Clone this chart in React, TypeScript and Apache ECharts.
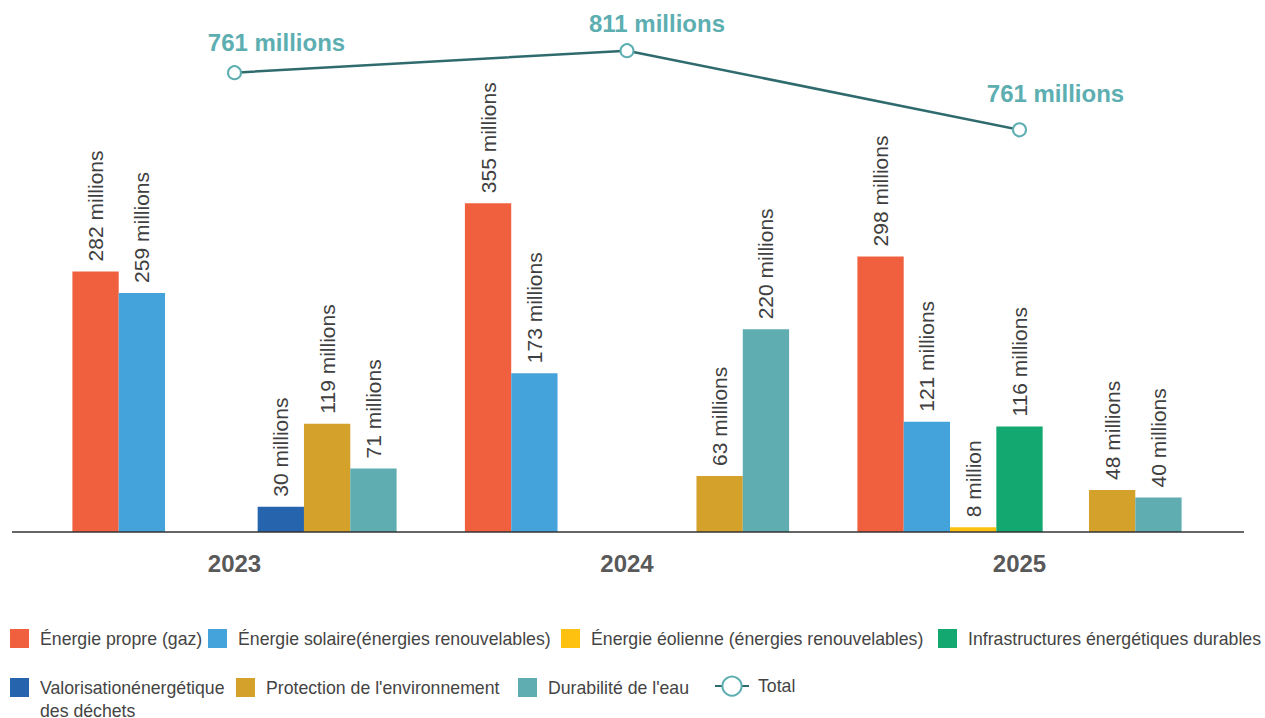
import React, { useEffect, useRef } from "react";
import * as echarts from "echarts";

const YEARS = ["2023", "2024", "2025"];

const GAZ = [282, 355, 298];
const SOLAIRE = [259, 173, 121];
const EOLIENNE = [null, null, 8];
const INFRA = [null, null, 116];
const VALORISATION = [30, null, null];
const PROTECTION = [119, 63, 48];
const EAU = [71, 220, 40];

// plotted totals (position) and the texts printed next to them
const TOTAL = [761, 811, 631];
const TOTAL_LABELS = ["761 millions", "811 millions", "761 millions"];

const SERIES_NAMES = [
  "Énergie propre (gaz)",
  "Énergie solaire(énergies renouvelables)",
  "Énergie éolienne (énergies renouvelables)",
  "Infrastructures énergétiques durables",
  "Valorisationénergétique des déchets",
  "Protection de l'environnement",
  "Durabilité de l'eau",
];
const TOTAL_NAME = "Total";

const COLORS = ["#F0603F", "#45A3DC", "#FEC10F", "#12A86F", "#2664AE", "#D4A22B", "#5FADB1"];

const FONT = "'Liberation Sans', Arial, Helvetica, sans-serif";

export default function App() {
  const ref = useRef<HTMLDivElement>(null);

  useEffect(() => {
    if (!ref.current) return;
    const chart = echarts.init(ref.current, null, { renderer: "svg" });

    const barData = [GAZ, SOLAIRE, EOLIENNE, INFRA, VALORISATION, PROTECTION, EAU];

    const barSeries = barData.map((d, i) => ({
      name: SERIES_NAMES[i],
      type: "bar",
      yAxisIndex: 0,
      data: d,
      barGap: "0%",
      barCategoryGap: "17.4%",
      itemStyle: { color: COLORS[i] },
      label: {
        show: true,
        position: "top",
        rotate: 90,
        distance: 10,
        align: "left",
        verticalAlign: "middle",
        fontSize: 21,
        fontFamily: FONT,
        color: "#404040",
        formatter: (p: any) =>
          p.value == null ? "" : `${p.value} ${p.value < 10 ? "million" : "millions"}`,
      },
    }));

    const labelOffsets = [
      [42, -30],
      [30, -27],
      [36, -36],
    ];

    const lineSeries = {
      name: TOTAL_NAME,
      type: "line",
      yAxisIndex: 1,
      z: 5,
      data: TOTAL.map((v, i) => ({
        value: v,
        label: { offset: labelOffsets[i] },
      })),
      symbol: "emptyCircle",
      symbolSize: 13,
      lineStyle: { color: "#2F6B6D", width: 2.5 },
      itemStyle: { color: "#5DAEB1", borderWidth: 2 },
      label: {
        show: true,
        position: "inside",
        fontSize: 24,
        fontWeight: "bold",
        fontFamily: FONT,
        color: "#5DAEB1",
        formatter: (p: any) => TOTAL_LABELS[p.dataIndex],
      },
    };

    const legendLayout = [
      { name: SERIES_NAMES[0], left: 10, top: 629 },
      { name: SERIES_NAMES[1], left: 208, top: 629 },
      { name: SERIES_NAMES[2], left: 561, top: 629 },
      { name: SERIES_NAMES[3], left: 938, top: 629 },
      { name: SERIES_NAMES[4], left: 10, top: 653 },
      { name: SERIES_NAMES[5], left: 236, top: 678 },
      { name: SERIES_NAMES[6], left: 518, top: 678 },
    ];

    const legends: any[] = legendLayout.map((l) => {
      const isWrap = l.name === SERIES_NAMES[4];
      return {
        data: [l.name],
        left: l.left,
        top: l.top,
        padding: 0,
        itemWidth: 19,
        itemHeight: 19,
        selectedMode: false,
        icon: "rect",
        formatter: isWrap ? () => "\nValorisationénergétique\ndes déchets" : undefined,
        textStyle: {
          fontSize: 17.7,
          fontFamily: FONT,
          color: "#444",
          lineHeight: isWrap ? 23 : 19,
          padding: [0, 0, 0, 6],
        },
      };
    });
    legends.push({
      data: [TOTAL_NAME],
      left: 714,
      top: 675.5,
      padding: 0,
      itemWidth: 34,
      itemHeight: 24,
      selectedMode: false,
      textStyle: {
        fontSize: 17.7,
        fontFamily: FONT,
        color: "#444",
        padding: [0, 0, 0, 4],
      },
    });

    chart.setOption({
      animation: false,
      backgroundColor: "#ffffff",
      textStyle: { fontFamily: FONT },
      grid: { left: 38.25, right: 49.25, top: 32, bottom: 186, containLabel: false },
      legend: legends,
      xAxis: {
        type: "category",
        data: YEARS,
        axisLine: { show: false },
        axisTick: { show: false },
        splitLine: { show: false },
        axisLabel: {
          fontSize: 24,
          fontWeight: "bold",
          color: "#595959",
          fontFamily: FONT,
          margin: 19,
        },
      },
      yAxis: [
        { type: "value", min: 3, max: 538.3, show: false, splitLine: { show: false } },
        { type: "value", min: -283, max: 853.4, show: false, splitLine: { show: false } },
      ],
      graphic: [
        {
          type: "line",
          z: 100,
          shape: { x1: 12, y1: 532, x2: 1244, y2: 532 },
          style: { stroke: "#333", lineWidth: 1.6 },
        },
      ],
      series: [...barSeries, lineSeries],
    });

    return () => chart.dispose();
  }, []);

  return (
    <div
      ref={ref}
      style={{ position: "absolute", left: 0, top: 0, width: 1265, height: 718 }}
    />
  );
}
